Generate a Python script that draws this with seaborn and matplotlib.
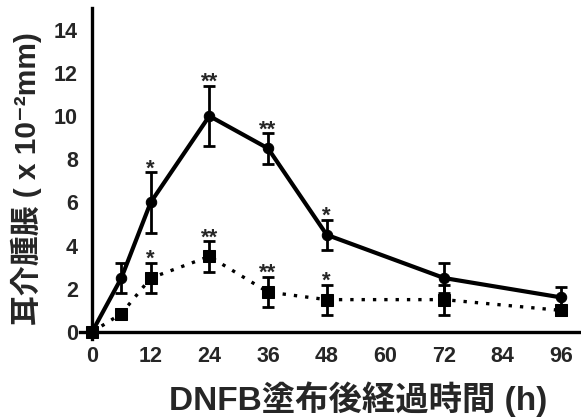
import pandas as pd
import seaborn as sns
import matplotlib.pyplot as plt

# hours after DNFB application
hours = [0, 6, 12, 24, 36, 48, 72, 96]

# series 1 (solid, circles)
swell_a = [0.0, 2.5, 6.0, 10.0, 8.5, 4.5, 2.5, 1.6]
err_a = [0.0, 0.7, 1.4, 1.4, 0.7, 0.7, 0.7, 0.5]
stars_a = ["", "", "*", "**", "**", "*", "", ""]

# series 2 (dotted, squares)
swell_b = [0.0, 0.85, 2.5, 3.5, 1.85, 1.5, 1.5, 1.0]
err_b = [0.0, 0.0, 0.7, 0.7, 0.7, 0.7, 0.7, 0.2]
stars_b = ["", "", "*", "**", "**", "*", "", ""]

x_ticks = [0, 12, 24, 36, 48, 60, 72, 84, 96]
y_ticks = [0, 2, 4, 6, 8, 10, 12, 14]

FONTS = ['Liberation Sans', 'Noto Sans CJK JP', 'DejaVu Sans']


def make_df():
    df_a = pd.DataFrame({'hour': hours, 'swell': swell_a, 'err': err_a, 'star': stars_a})
    df_b = pd.DataFrame({'hour': hours, 'swell': swell_b, 'err': err_b, 'star': stars_b})
    return df_a, df_b


def draw_series(ax, df, ls, marker, ms, lw):
    ax.errorbar(df['hour'], df['swell'], yerr=df['err'], fmt='none', ecolor='black',
                elinewidth=2.0, capsize=4.5, capthick=2.0, zorder=2)
    sns.lineplot(data=df, x='hour', y='swell', ax=ax, color='black', linestyle=ls,
                 linewidth=lw, marker=marker, markersize=ms, markeredgecolor='black',
                 markerfacecolor='black', legend=False, zorder=3)
    for h, v, e, s in zip(df['hour'], df['swell'], df['err'], df['star']):
        if s:
            ax.text(h, v + e - 0.1, s, ha='center', va='baseline', fontsize=16,
                    fontweight='bold', family=FONTS)


def main():
    sns.set_style('white')
    plt.rcParams['font.family'] = FONTS
    plt.rcParams['font.weight'] = 'bold'

    fig = plt.figure(figsize=(5.81, 4.20), dpi=100)
    ax = fig.add_axes([0.1373, 0.194, 0.8627, 0.787])

    df_a, df_b = make_df()
    draw_series(ax, df_b, (0, (1, 2.4)), 's', 8.5, 2.4)
    draw_series(ax, df_a, '-', 'o', 7.5, 3.0)

    ax.set_xlim(-2.5, 100)
    ax.set_ylim(-0.3, 15)
    ax.spines['left'].set_position(('data', 0))
    ax.spines['bottom'].set_position(('data', 0))
    ax.spines['top'].set_visible(False)
    ax.spines['right'].set_visible(False)
    for sp in ('left', 'bottom'):
        ax.spines[sp].set_linewidth(2.4)
        ax.spines[sp].set_color('black')

    ax.set_xticks(x_ticks)
    ax.set_yticks(y_ticks)
    ax.tick_params(axis='both', direction='out', length=8, width=2.2, color='black',
                   labelsize=15.5, pad=2)
    for lab in ax.get_xticklabels() + ax.get_yticklabels():
        lab.set_fontweight('bold')

    ax.set_xlabel('DNFB塗布後経過時間 (h)', fontsize=24, fontweight='bold', va='center')
    ax.xaxis.set_label_coords(0.555, -0.183)
    ax.set_ylabel('耳介腫脹 ( x 10⁻²mm)', fontsize=21.5, fontweight='bold')
    ax.yaxis.set_label_coords(-0.076, 0.485)

    fig.savefig('out.png', dpi=100)
    plt.close(fig)


if __name__ == '__main__':
    main()
